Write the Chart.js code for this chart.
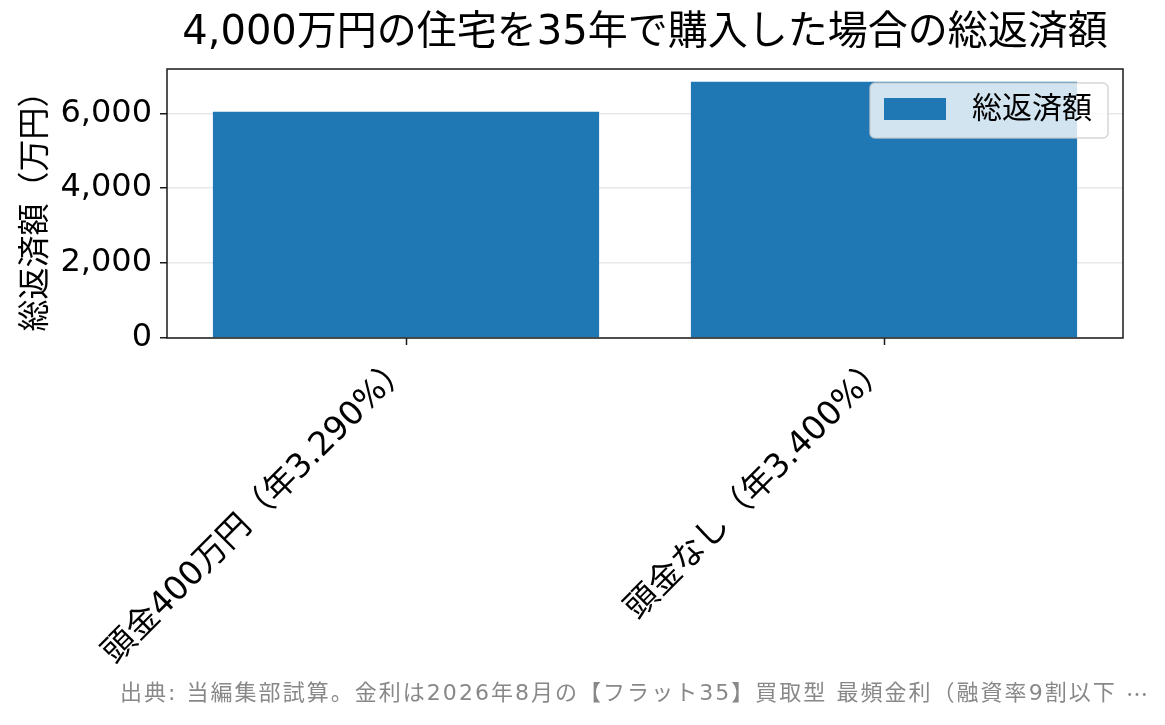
<!DOCTYPE html>
<html lang="ja">
<head>
<meta charset="utf-8">
<title>総返済額</title>
<script src="https://cdn.jsdelivr.net/npm/chart.js@4.4.1/dist/chart.umd.min.js"></script>
<style>
  html, body { margin:0; padding:0; background:#fff; }
  #wrap { width:1165px; height:725px; }
</style>
</head>
<body>
<div id="wrap"><canvas id="chart" width="1165" height="725"></canvas></div>
<script>
// データ
const categories = ['頭金400万円（年3.290%）', '頭金なし（年3.400%）'];
const totalRepayment = [6040, 6840];   // 万円
const yTicks = [0, 2000, 4000, 6000];
const seriesLabel = '総返済額';
const chartTitle = '4,000万円の住宅を35年で購入した場合の総返済額';
const yAxisTitle = '総返済額（万円）';
const sourceNote = '出典: 当編集部試算。金利は2026年8月の【フラット35】買取型 最頻金利（融資率9割以下 …';

const FONT = '"DejaVu Sans", "Noto Sans CJK JP", sans-serif';
const CJK = '"Noto Sans CJK JP", sans-serif';
const BLUE = '#1f77b4';

// タイトル・凡例・枠線・出典を描く
const decor = {
  id: 'decor',
  afterDraw(chart) {
    const { ctx, chartArea: a } = chart;
    ctx.save();
    // 枠
    ctx.strokeStyle = '#1a1a1a';
    ctx.lineWidth = 1.5;
    ctx.strokeRect(a.left, a.top, a.right - a.left, a.bottom - a.top);

    // タイトル
    ctx.fillStyle = '#000';
    ctx.font = '40px ' + FONT;
    ctx.textAlign = 'center';
    ctx.textBaseline = 'middle';
    ctx.fillText(chartTitle, (a.left + a.right) / 2, 34);

    // 凡例
    const bx = a.right - 253, by = a.top + 14, bw = 238, bh = 55;
    ctx.beginPath();
    ctx.roundRect(bx, by, bw, bh, 5);
    ctx.fillStyle = 'rgba(255,255,255,0.8)';
    ctx.fill();
    ctx.strokeStyle = 'rgba(204,204,204,0.8)';
    ctx.lineWidth = 1.5;
    ctx.stroke();
    ctx.fillStyle = chart.data.datasets[0].backgroundColor;
    ctx.fillRect(bx + 14, by + 15, 62, 22);
    ctx.fillStyle = '#000';
    ctx.font = '30px ' + FONT;
    ctx.textAlign = 'left';
    ctx.fillText(chart.data.datasets[0].label, bx + 102, by + 27);

    // 出典（末尾の…は和文フォントで）
    const head = sourceNote.slice(0, -1);
    const tail = sourceNote.slice(-1);
    ctx.fillStyle = '#888';
    ctx.font = '22px ' + CJK;
    const tailW = ctx.measureText(tail).width;
    ctx.font = '22px ' + FONT;
    const headW = ctx.measureText(head).width;
    const right = 1148, left = 120;
    const spacing = Math.max(0, (right - left - tailW - headW) / head.length);
    ctx.letterSpacing = spacing.toFixed(2) + 'px';
    ctx.textAlign = 'left';
    ctx.fillText(head, left, 694);
    ctx.letterSpacing = '0px';
    ctx.font = '22px ' + CJK;
    ctx.fillText(tail, right - tailW, 694);
    ctx.restore();
  }
};

new Chart(document.getElementById('chart'), {
  type: 'bar',
  data: {
    labels: categories,
    datasets: [{
      label: seriesLabel,
      data: totalRepayment,
      backgroundColor: BLUE,
      barPercentage: 1,
      categoryPercentage: 0.808
    }]
  },
  options: {
    responsive: false,
    animation: false,
    devicePixelRatio: 1,
    layout: { padding: { top: 69, right: 42, left: 0, bottom: 0 } },
    plugins: {
      legend: { display: false },
      title: { display: false },
      tooltip: { enabled: false }
    },
    scales: {
      x: {
        offset: true,
        grid: { offset: false, drawOnChartArea: false, tickColor: '#1a1a1a', tickLength: 7, tickWidth: 1.5 },
        border: { display: false },
        ticks: {
          color: '#000', font: { family: FONT, size: 33 },
          minRotation: 45, maxRotation: 45, autoSkip: false, padding: 3
        },
        afterFit(s) { s.height = 725 - 338; }
      },
      y: {
        z: 1,
        min: 0,
        max: Math.max(...totalRepayment) * 1.05,
        grid: { color: 'rgba(176,176,176,0.3)', lineWidth: 1.5, tickColor: '#1a1a1a', tickLength: 7, tickWidth: 1.5 },
        border: { display: false },
        afterBuildTicks(s) { s.ticks = yTicks.map(v => ({ value: v })); },
        ticks: {
          color: '#000', font: { family: FONT, size: 32 }, padding: 8,
          callback: v => v.toLocaleString('en-US')
        },
        title: {
          display: true, text: yAxisTitle, color: '#000',
          font: { family: FONT, size: 32 }, padding: { top: 17, bottom: 0 }
        },
        afterFit(s) { s.width = 167; }
      }
    }
  },
  plugins: [decor]
});
</script>
</body>
</html>
